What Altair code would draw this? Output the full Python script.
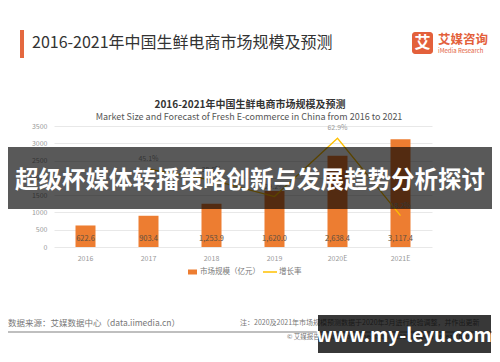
import altair as alt
import pandas as pd

years = ["2016", "2017", "2018", "2019", "2020E", "2021E"]
market = [622.6, 903.4, 1253.9, 1620.0, 2638.4, 3117.4]
growth_years = ["2017", "2018", "2019", "2020E", "2021E"]
growth = [45.1, 38.8, 29.2, 62.9, 18.2]

FONT = "Noto Sans CJK SC"
OX, OY = 54, 126  # plot origin in page coordinates


def px(x):
    return x - OX


def py(y):
    return y - OY


bars_df = pd.DataFrame({"year": years, "market": market})
bars_df["label"] = [f"{v:,.1f}" for v in market]
line_df = pd.DataFrame({"year": growth_years, "growth": growth})
line_df["label"] = [f"{v:.1f}%" for v in growth]
one = pd.DataFrame({"k": [0]})

xenc = alt.X("year:N", sort=years, title=None,
             scale=alt.Scale(paddingInner=0, paddingOuter=0),
             axis=alt.Axis(labelFontSize=7, labelColor="#999999", ticks=False,
                           domain=False, labelPadding=7, labelAngle=0, labelFont=FONT))

bars = alt.Chart(bars_df).mark_bar(size=20, color="#ED7D31").encode(
    x=xenc,
    y=alt.Y("market:Q", title=None,
            scale=alt.Scale(domain=[0, 3500], nice=False),
            axis=alt.Axis(values=[0, 500, 1000, 1500, 2000, 2500, 3000, 3500],
                          format="d",
                          labelFontSize=7, labelColor="#999999", ticks=False,
                          domain=False, gridColor="#e8e8e8", labelPadding=7,
                          orient="left", labelFont=FONT)),
)
bar_labels = alt.Chart(bars_df).mark_text(fontSize=7.5, color="#5e5040", font=FONT,
                                          baseline="middle").encode(
    x=alt.X("year:N", sort=years),
    y=alt.value(py(239)),
    text="label:N",
)
bar_layer = alt.layer(bars, bar_labels)

line = alt.Chart(line_df).mark_line(color="#FFC000", strokeWidth=1.3).encode(
    x=alt.X("year:N", sort=years),
    y=alt.Y("growth:Q", title=None,
            scale=alt.Scale(domain=[0, 70], nice=False),
            axis=alt.Axis(values=[0, 10, 20, 30, 40, 50, 60, 70],
                          labelExpr="datum.value + '%'", grid=False,
                          labelFontSize=7, labelColor="#999999", ticks=False,
                          domain=False, labelPadding=6, orient="right",
                          labelFont=FONT)),
)
line_labels = alt.Chart(line_df).mark_text(fontSize=7, color="#999999", dy=-10,
                                           font=FONT).encode(
    x=alt.X("year:N", sort=years),
    y=alt.Y("growth:Q", scale=alt.Scale(domain=[0, 70], nice=False), axis=None),
    text="label:N",
)
line_layer = alt.layer(line, line_labels)


def txt(text, x, y, size, color, weight="normal", align="left", opacity=1.0):
    return alt.Chart(one).mark_text(text=text, fontSize=size, color=color,
                                    fontWeight=weight, align=align,
                                    baseline="middle", font=FONT,
                                    opacity=opacity).encode(
        x=alt.value(px(x)), y=alt.value(py(y)))


def rect(x1, x2, y1, y2, color, opacity=1.0, radius=0):
    return alt.Chart(one).mark_rect(color=color, opacity=opacity,
                                    cornerRadius=radius).encode(
        x=alt.value(px(x1)), x2=alt.value(px(x2)),
        y=alt.value(py(y1)), y2=alt.value(py(y2)))


deco = [
    rect(20, 24, 30, 58, "#E4683F"),
    txt("2016-2021年中国生鲜电商市场规模及预测", 32, 43, 16, "#333333"),
    rect(412, 433, 32, 54, "#E3603B", radius=3),
    txt("艾", 422.5, 43, 16, "#ffffff", "bold", "center"),
    txt("艾媒咨询", 438, 40, 12.5, "#E3603B", "bold"),
    txt("iMedia Research", 438, 51, 6, "#E3603B"),
    txt("2016-2021年中国生鲜电商市场规模及预测", 250, 105, 10, "#333333", "bold", "center"),
    txt("Market Size and Forecast of Fresh E-commerce  in China from 2016 to 2021",
        249, 117, 9, "#555555", "normal", "center"),
    rect(188, 197, 269.5, 274.5, "#ED7D31"),
    txt("市场规模（亿元）", 200, 272, 7.5, "#777777"),
    alt.Chart(one).mark_rule(color="#FFC000", strokeWidth=1.5).encode(
        x=alt.value(px(263)), x2=alt.value(px(277)), y=alt.value(py(272))),
    txt("增长率", 279, 272, 7.5, "#777777"),
    txt("数据来源：艾媒数据中心（data.iimedia.cn）", 8, 323, 8.5, "#777777"),
    txt("注：2020及2021年市场规模预测数据于2020年3月进行校验调整，并作出更新",
        240, 323, 7, "#777777"),
    alt.Chart(one).mark_rule(color="#aaaaaa", strokeWidth=1.5).encode(
        x=alt.value(px(8)), x2=alt.value(px(492)), y=alt.value(py(332))),
    txt("© 艾媒报告中心: report.iimedia.cn ©2020 iiMedia Research Inc", 287, 337, 6.5, "#777777"),
    # overlays
    rect(8, 492, 147, 209, "#000000", opacity=0.65),
    txt("超级杯媒体转播策略创新与发展趋势分析探讨", 250, 181, 23.5, "#ffffff", "bold", "center"),
    rect(318, 491, 315, 353, "#000000", opacity=0.78),
    txt("www.my-leyu.com", 404, 336, 19, "#ffffff", "bold", "center"),
]

chart = alt.layer(bar_layer, line_layer, *deco).resolve_scale(
    y="independent"
).properties(
    width=378, height=121,
    padding={"left": 46, "top": 118, "right": 60, "bottom": 107},
    autosize=alt.AutoSizeParams(type="none"),
    background="#ffffff",
).configure_view(stroke=None).configure_axis(labelFont=FONT)

chart.save("out.html", embed_options={"renderer": "svg", "actions": False})
